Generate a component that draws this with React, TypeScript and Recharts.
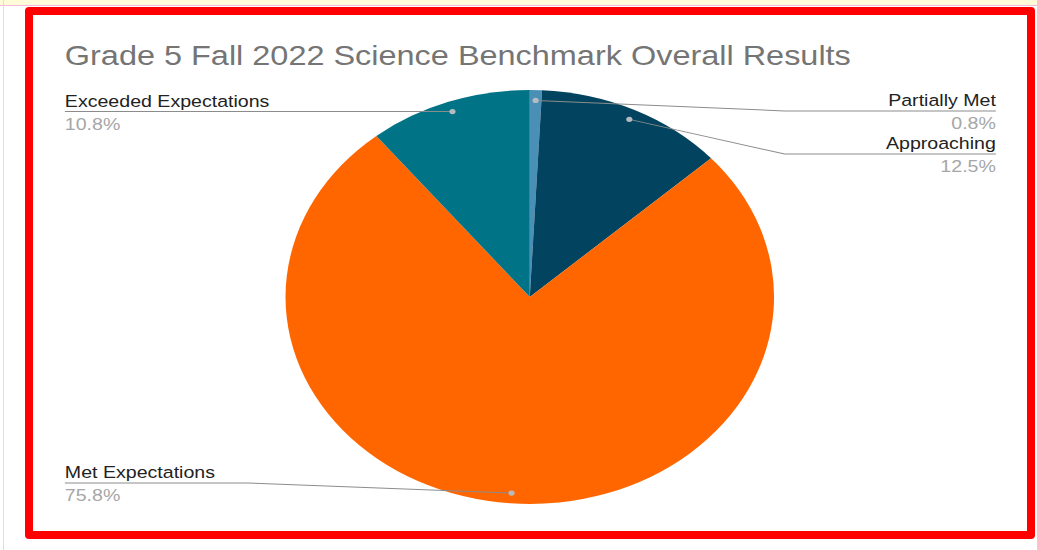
import { PieChart, Pie, Cell } from "recharts";

const categories = ["Partially Met", "Approaching", "Met Expectations", "Exceeded Expectations"];
const percents = [0.8, 12.5, 75.8, 10.8];
const sliceColors = ["#4a8fb5", "#02445f", "#ff6600", "#017387"];
const title = "Grade 5 Fall 2022 Science Benchmark Overall Results";

const data = categories.map((name, i) => ({ name, value: percents[i] }));

// the screenshot is stretched horizontally, so the whole chart is scaled in x
const SX = 1.18;
const W = 842;
const H = 516;
const FONT = "'Liberation Sans', Arial, sans-serif";

const LEFT_X = 27;
const RIGHT_X = 816;
const LEFT_ELBOW = 181;
const RIGHT_ELBOW = 637;
const TOP_Y = 96;
const BOTTOM_Y = 468;
const GAP = 43;

// label rows already taken on each side, filled in slice order
let placed: { left: number[]; right: number[] } = { left: [], right: [] };

function placeRow(side: number[], want: number) {
  let y = Math.min(BOTTOM_Y, Math.max(TOP_Y, want));
  let moved = true;
  while (moved) {
    moved = false;
    for (const p of side) {
      if (Math.abs(p - y) < GAP) {
        y = y >= p ? p + GAP : p - GAP;
        moved = true;
      }
    }
  }
  side.push(y);
  return y;
}

function renderLabel(props: any) {
  const { cx, cy, midAngle, outerRadius, index, name, value } = props;
  if (index === 0) placed = { left: [], right: [] };
  const rad = Math.PI / 180;
  const px = cx + outerRadius * 0.95 * Math.cos(-midAngle * rad);
  const py = cy + outerRadius * 0.95 * Math.sin(-midAngle * rad);
  const right = px >= cx;
  const y = placeRow(right ? placed.right : placed.left, py);
  const tx = right ? RIGHT_X : LEFT_X;
  const ex = right ? RIGHT_ELBOW : LEFT_ELBOW;
  return (
    <g key={`lbl-${index}`}>
      <path d={`M${tx},${y}L${ex},${y}L${px},${py}`} stroke="#8c8c8c" strokeWidth={1} fill="none" />
      <circle cx={px} cy={py} r={2.6} fill="#b4bcc2" />
      <text x={tx} y={y - 5} textAnchor={right ? "end" : "start"} fontSize={16.6} fill="#222" fontFamily={FONT}>
        {name}
      </text>
      <text x={tx} y={y + 18} textAnchor={right ? "end" : "start"} fontSize={16.6} fill="#a6a6a6" fontFamily={FONT}>
        {`${Number(value).toFixed(1)}%`}
      </text>
    </g>
  );
}

export default function App() {
  return (
    <div style={{ position: "absolute", left: 0, top: 0, width: 1037, height: 550, background: "#fff", overflow: "hidden" }}>
      <div style={{ position: "absolute", left: 0, top: 0, width: 1037, height: 5, background: "#fffbd9" }} />
      <div style={{ position: "absolute", left: 0, top: 5, width: 1037, height: 1, background: "#f6b8dc" }} />
      <div style={{ position: "absolute", left: 3, top: 0, width: 1, height: 550, background: "#f9d0dc" }} />
      <div
        style={{
          position: "absolute",
          left: 25,
          top: 7,
          width: 994,
          height: 516,
          border: "8px solid #ff0000",
          borderRadius: 4,
        }}
      />
      <div style={{ position: "absolute", left: 33, top: 15, width: W, height: H, transform: `scaleX(${SX})`, transformOrigin: "0 0" }}>
        <PieChart width={W} height={H} margin={{ top: 0, right: 0, bottom: 0, left: 0 }}>
          <Pie
            data={data}
            dataKey="value"
            nameKey="name"
            cx={421}
            cy={282}
            outerRadius={207}
            startAngle={90}
            endAngle={-270}
            stroke="none"
            label={renderLabel}
            labelLine={false}
            isAnimationActive={false}
          >
            {data.map((_, i) => (
              <Cell key={i} fill={sliceColors[i]} />
            ))}
          </Pie>
        </PieChart>
        <svg width={W} height={70} style={{ position: "absolute", left: 0, top: 0 }}>
          <text x={27} y={50} fontSize={27.5} fill="#757575" fontFamily={FONT}>
            {title}
          </text>
        </svg>
      </div>
    </div>
  );
}
